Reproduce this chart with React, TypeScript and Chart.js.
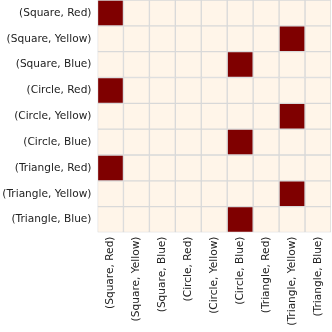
import React, { useEffect, useRef } from "react";
import { Chart, registerables } from "chart.js";

Chart.register(...registerables);

const rowLabels = [
  "(Square, Red)",
  "(Square, Yellow)",
  "(Square, Blue)",
  "(Circle, Red)",
  "(Circle, Yellow)",
  "(Circle, Blue)",
  "(Triangle, Red)",
  "(Triangle, Yellow)",
  "(Triangle, Blue)",
];
const colLabels = [
  "(Square, Red)",
  "(Square, Yellow)",
  "(Square, Blue)",
  "(Circle, Red)",
  "(Circle, Yellow)",
  "(Circle, Blue)",
  "(Triangle, Red)",
  "(Triangle, Yellow)",
  "(Triangle, Blue)",
];
// for each row, the column index that is marked (value 1); others are 0
const markedCol = [0, 7, 5, 0, 7, 5, 0, 7, 5];

const ON_COLOR = "#7f0000";
const OFF_COLOR = "#fff5e9";
const GRID_COLOR = "#d9d9d9";

export default function App() {
  const ref = useRef<HTMLCanvasElement | null>(null);
  useEffect(() => {
    document.body.style.margin = "0";
    const canvas = ref.current;
    if (!canvas) return;
    const datasets = rowLabels.map((rl, r) => ({
      label: rl,
      data: colLabels.map(() => [r, r + 1] as [number, number]),
      backgroundColor: colLabels.map((_, c) => (markedCol[r] === c ? ON_COLOR : OFF_COLOR)),
      borderColor: GRID_COLOR,
      borderWidth: 1,
      borderSkipped: false as const,
      barPercentage: 1,
      categoryPercentage: 1,
      grouped: false,
    }));
    const chart = new Chart(canvas, {
      type: "bar",
      data: { labels: colLabels, datasets },
      options: {
        animation: false,
        responsive: false,
        maintainAspectRatio: false,
        layout: { padding: { left: 0, right: 1, top: 0, bottom: 0 } },
        plugins: { legend: { display: false }, tooltip: { enabled: false } },
        scales: {
          x: {
            type: "category",
            grid: { display: false, drawTicks: false },
            border: { display: false },
            afterFit: (axis: any) => {
              axis.paddingLeft = 0;
              axis.paddingRight = 0;
              axis.height = 99.5;
            },
            ticks: {
              minRotation: 90,
              maxRotation: 90,
              padding: 4,
              color: "#222",
              font: { family: "DejaVu Sans", size: 10.6 },
            },
          },
          y: {
            type: "linear",
            min: 0,
            max: 9,
            reverse: true,
            grid: { display: false, drawTicks: false },
            border: { display: false },
            afterBuildTicks: (axis: any) => {
              axis.ticks = rowLabels.map((_, i) => ({ value: i + 0.5 }));
            },
            afterFit: (axis: any) => {
              axis.paddingTop = 0;
              axis.paddingBottom = 0;
              axis.width = 97.5;
            },
            ticks: {
              padding: 6,
              color: "#222",
              font: { family: "DejaVu Sans", size: 10.6 },
              callback: (v: any) => rowLabels[Math.floor(Number(v))] ?? "",
            },
          },
        },
      },
    });
    return () => chart.destroy();
  }, []);
  return (
    <div style={{ position: "absolute", left: 0, top: 0, width: 332, height: 332 }}>
      <canvas ref={ref} width={332} height={332} style={{ display: "block" }} />
    </div>
  );
}
